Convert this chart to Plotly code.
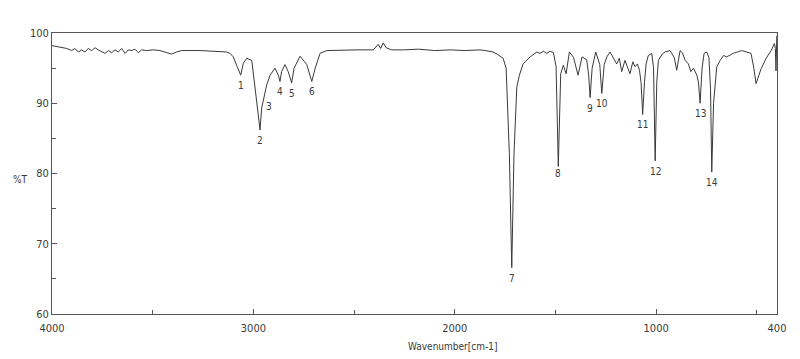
import plotly.graph_objects as go

# Spectrum trace: wavenumber (cm-1) and %T
wavenumber = [
    4000, 3960, 3927, 3902, 3886, 3869, 3853, 3836, 3820, 3803, 3786, 3770, 3753, 3737,
    3720, 3704, 3687, 3671, 3654, 3637, 3621, 3604, 3588, 3571, 3555, 3530, 3497, 3464,
    3430, 3406, 3381, 3356, 3265, 3133, 3116, 3100, 3080, 3063, 3050, 3033, 3008, 2992,
    2967, 2959, 2947, 2934, 2917, 2893, 2876, 2868, 2860, 2843, 2827, 2810, 2798, 2768,
    2735, 2710, 2693, 2669, 2636, 2560, 2480, 2404, 2380, 2368, 2355, 2341, 2313, 2250,
    2180, 2100, 2020, 1950, 1875, 1850, 1810, 1790, 1760, 1745, 1742, 1729, 1717, 1706,
    1692, 1679, 1661, 1626, 1592, 1577, 1560, 1543, 1527, 1510, 1497, 1486, 1474, 1461,
    1447, 1431, 1410, 1388, 1368, 1345, 1335, 1328, 1318, 1300, 1280, 1270, 1258, 1245,
    1229, 1196, 1183, 1171, 1155, 1130, 1116, 1105, 1093, 1083, 1075, 1067, 1058, 1050,
    1039, 1022, 1013, 1005, 997, 989, 970, 956, 931, 910, 898, 888, 881, 870, 856, 840,
    828, 815, 798, 790, 782, 772, 762, 749, 738, 730, 724, 715, 707, 699, 682, 666, 650,
    617, 575, 529, 515, 504, 479, 454, 429, 413, 408, 405, 401,
]
transmittance = [
    98.2, 98.0, 97.8, 97.5, 97.8, 97.3, 97.6, 97.3, 97.8, 97.5, 97.9, 97.6, 97.3, 97.1,
    97.5, 97.2, 97.6, 97.3, 97.8, 97.1, 97.6, 97.5, 97.7, 97.2, 97.6, 97.5, 97.6, 97.5,
    97.2, 97.0, 97.3, 97.5, 97.5, 97.3, 97.1, 96.6, 95.2, 94.0, 95.7, 96.4, 96.1, 92.1,
    86.2, 89.3, 91.0, 92.6, 94.0, 95.0, 94.0, 93.1, 94.5, 95.5, 94.5, 92.9, 95.0, 96.7,
    95.5, 93.1, 95.0, 97.1, 97.5, 97.6, 97.6, 97.6, 98.4, 97.8, 98.6, 97.9, 97.6, 97.6,
    97.7, 97.5, 97.6, 97.5, 97.6, 97.5, 97.3, 97.0, 96.4, 95.0, 92.3, 82.8, 66.6, 82.8,
    92.3, 94.0, 95.6, 96.6, 97.3, 97.1, 97.4, 97.1, 97.4, 97.2, 95.2, 81.0, 94.2, 95.4,
    94.2, 97.3, 96.5, 94.0, 96.6, 96.2, 94.0, 90.8, 95.0, 97.3, 95.5, 91.4, 95.5, 96.6,
    97.3, 95.6, 96.4, 94.5, 96.1, 94.2, 95.9, 95.2, 95.6, 94.7, 93.0, 88.4, 93.0, 95.6,
    96.8, 97.1, 95.0, 81.8, 93.0, 96.1, 97.0, 97.3, 97.5, 96.5, 94.7, 96.8, 97.5, 97.2,
    96.1, 95.6, 94.5, 95.0, 94.0, 93.0, 90.0, 95.0, 97.1, 97.3, 96.5, 92.0, 80.2, 90.0,
    93.3, 95.2, 96.1, 96.8, 96.6, 97.1, 97.5, 97.1, 95.0, 92.8, 94.9, 96.4, 97.5, 98.5,
    97.8, 94.6, 99.6,
]

# Numbered peaks
peak_labels = ["1", "2", "3", "4", "5", "6", "7", "8", "9", "10", "11", "12", "13", "14"]
peak_wn = [3063, 2967, 2947, 2868, 2810, 2710, 1717, 1486, 1328, 1270, 1067, 1005, 782, 724]
peak_t = [94.0, 86.2, 91.0, 93.1, 92.9, 93.1, 66.6, 81.0, 90.8, 91.4, 88.4, 81.8, 90.0, 80.2]

x_ticks = [4000, 3000, 2000, 1000, 400]
y_ticks = [60, 70, 80, 90, 100]

FONT = "DejaVu Sans Condensed, Liberation Sans Narrow, Arial Narrow, sans-serif"
INK = "#3a3a3a"

fig = go.Figure()
fig.add_trace(go.Scatter(
    x=wavenumber, y=transmittance, mode="lines",
    line=dict(color=INK, width=1), hoverinfo="skip", showlegend=False,
))

for lab, wn, t in zip(peak_labels, peak_wn, peak_t):
    xs = 5 if lab == "3" else 0
    ys = 0 if lab in ("8",) else -3
    fig.add_annotation(x=wn, y=t, text=lab, showarrow=False, yanchor="top",
                       yshift=ys, xshift=xs, font=dict(family=FONT, size=10, color=INK))

fig.add_annotation(x=0.553, y=-0.115, xref="paper", yref="paper", text="Wavenumber[cm-1]",
                   showarrow=False, xanchor="center", yanchor="middle",
                   font=dict(family=FONT, size=10, color=INK))
fig.add_annotation(x=-0.044, y=0.477, xref="paper", yref="paper", text="%T",
                   showarrow=False, xanchor="center", yanchor="middle",
                   font=dict(family=FONT, size=10, color=INK))

axis_common = dict(
    showgrid=False, zeroline=False, showline=True, linecolor="#555", linewidth=1,
    mirror=True, ticks="inside", ticklen=5, tickcolor="#555",
    tickfont=dict(family=FONT, size=11, color=INK),
)
fig.update_xaxes(range=[4000, 400], tickvals=x_ticks, ticktext=[str(v) for v in x_ticks],
                 ticklabelstandoff=4,
                 minor=dict(tickvals=[3500, 2500, 1500, 500], ticks="inside", ticklen=4,
                            tickcolor="#555"),
                 **axis_common)
fig.update_yaxes(range=[60, 100], tickvals=y_ticks,
                 minor=dict(tickvals=[65, 75, 85, 95], ticks="inside", ticklen=4,
                            tickcolor="#555"),
                 **axis_common)

fig.update_layout(
    width=800, height=359,
    margin=dict(l=52, r=23, t=33, b=45),
    paper_bgcolor="white", plot_bgcolor="white",
)

fig.write_html("out.html")
